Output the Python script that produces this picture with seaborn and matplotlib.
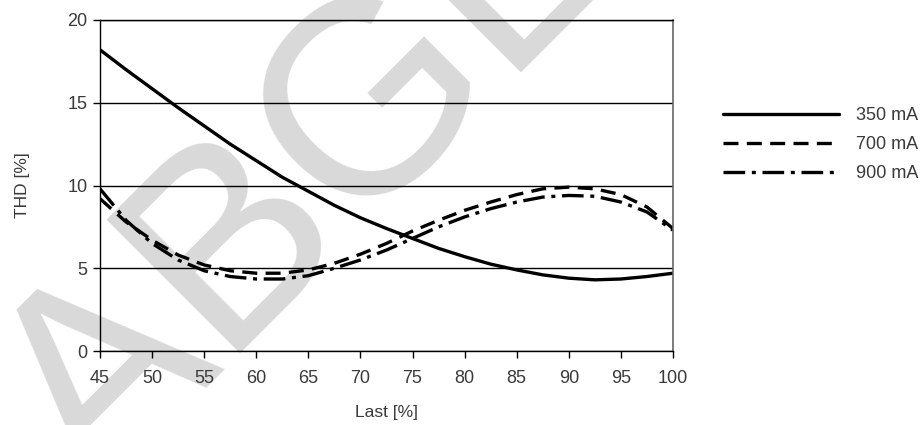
import matplotlib
matplotlib.use("Agg")
import matplotlib.pyplot as plt
import numpy as np
import pandas as pd
import seaborn as sns

# Dati (passo 2.5 %)
last = [45, 47.5, 50, 52.5, 55, 57.5, 60, 62.5, 65, 67.5, 70, 72.5,
        75, 77.5, 80, 82.5, 85, 87.5, 90, 92.5, 95, 97.5, 100]
thd_350 = [18.2, 17.0, 15.85, 14.7, 13.6, 12.5, 11.5, 10.5, 9.65, 8.8, 8.05, 7.4,
           6.8, 6.2, 5.7, 5.25, 4.9, 4.6, 4.4, 4.3, 4.35, 4.5, 4.7]
thd_700 = [9.2, 7.8, 6.7, 5.8, 5.2, 4.85, 4.7, 4.7, 4.9, 5.3, 5.85, 6.5,
           7.25, 7.9, 8.5, 9.0, 9.45, 9.8, 9.9, 9.8, 9.45, 8.7, 7.4]
thd_900 = [9.8, 7.9, 6.5, 5.5, 4.85, 4.5, 4.35, 4.35, 4.55, 5.0, 5.5, 6.1,
           6.8, 7.5, 8.1, 8.6, 9.0, 9.3, 9.4, 9.35, 9.0, 8.4, 7.3]
serie = ["350 mA", "700 mA", "900 mA"]

df = pd.concat([
    pd.DataFrame({"Last": last, "THD": v, "Serie": s})
    for s, v in zip(serie, [thd_350, thd_700, thd_900])
])

sns.set_theme(style="white")
plt.rcParams["font.family"] = ["Liberation Sans", "DejaVu Sans"]
testo = "#3a3a3a"

fig = plt.figure(figsize=(9.21, 4.25), dpi=100)

# Filigrana sullo sfondo (dietro a tutto)
fig.text(0.103, -0.172, "ABGEKÜNDIGT", rotation=45, rotation_mode="anchor",
         ha="left", va="baseline", fontsize=198, color="#d9d9d9", zorder=-10)

ax = fig.add_axes([100 / 921, 74 / 425, 573 / 921, 331 / 425])
ax.patch.set_alpha(0)

sns.lineplot(
    data=df, x="Last", y="THD", hue="Serie", style="Serie",
    palette=["black"] * 3,
    dashes={"350 mA": "", "700 mA": (4.5, 2.5), "900 mA": (6.5, 2, 1.2, 2)},
    linewidth=2.4, ax=ax,
)

ax.set_xlim(45, 100)
ax.set_ylim(0, 20)
ax.set_xticks(range(45, 101, 5))
ax.set_yticks(range(0, 21, 5))
ax.yaxis.grid(True, color="black", linewidth=1)
ax.xaxis.grid(False)
ax.set_axisbelow(True)

for lato in ["left", "bottom", "top"]:
    ax.spines[lato].set_color("black")
    ax.spines[lato].set_linewidth(1)
ax.spines["right"].set_color("#666666")
ax.spines["right"].set_linewidth(1.2)

ax.tick_params(axis="both", which="both", direction="out", length=5, width=1,
               color="black", labelsize=13, labelcolor=testo,
               bottom=True, left=True)
ax.tick_params(axis="x", pad=9)
ax.tick_params(axis="y", pad=4)
ax.set_xlabel("Last [%]", fontsize=12.5, color=testo, labelpad=13)
ax.set_ylabel("THD [%]", fontsize=12.5, color=testo, labelpad=27)

handles, labels = ax.get_legend_handles_labels()
ax.legend(handles, labels, loc="upper left", bbox_to_anchor=(723 / 921, 1 - 107 / 425),
          bbox_transform=fig.transFigure, frameon=False, fontsize=13,
          handlelength=6.4, handletextpad=0.95, labelspacing=0.66,
          borderpad=0, borderaxespad=0, labelcolor=testo)

fig.savefig("out.png", dpi=100)
